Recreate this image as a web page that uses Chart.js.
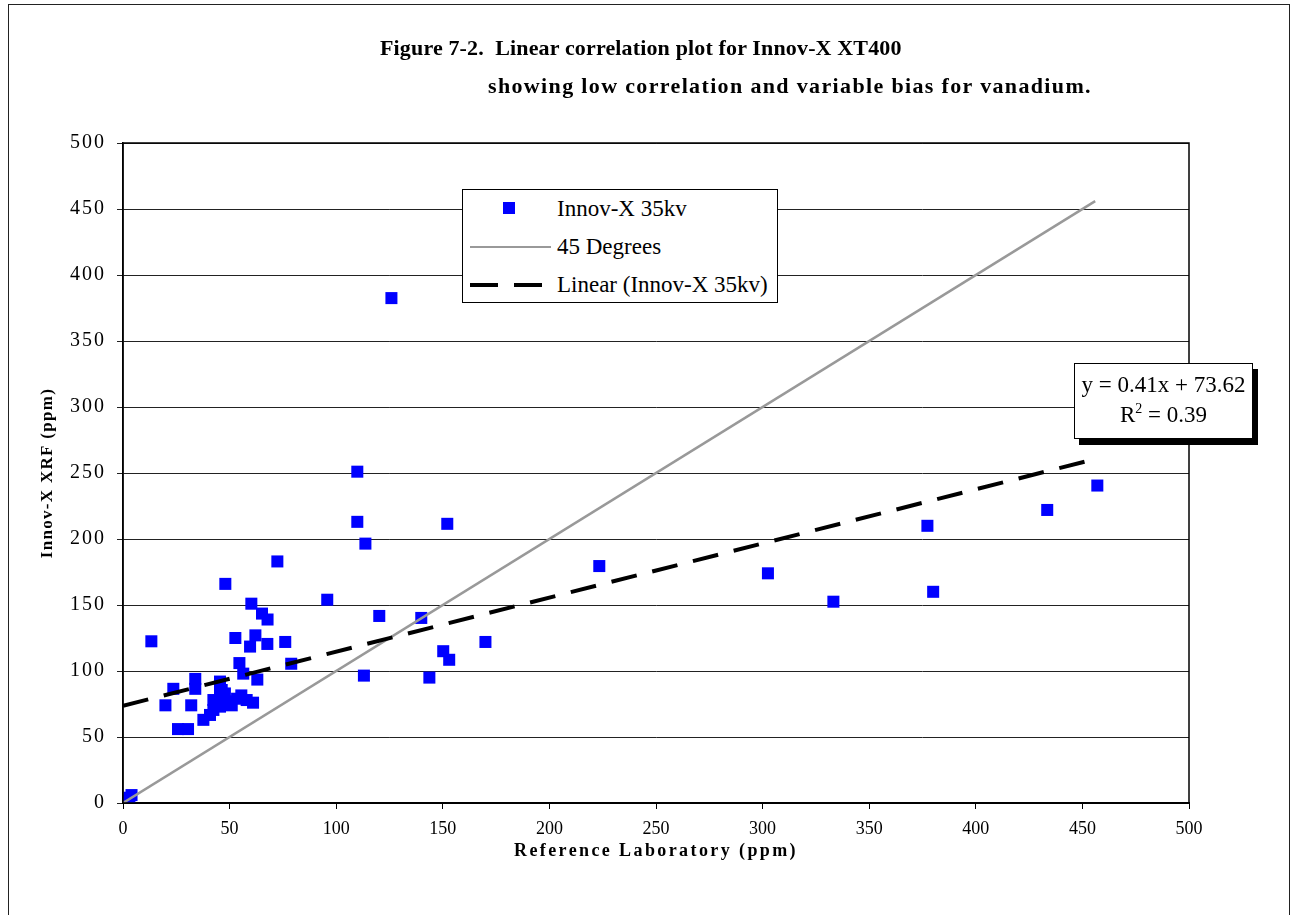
<!DOCTYPE html>
<html>
<head>
<meta charset="utf-8">
<script src="https://cdn.jsdelivr.net/npm/chart.js@4.4.1/dist/chart.umd.min.js"></script>
<style>
  html, body { margin: 0; padding: 0; background: #fff; }
  body { width: 1299px; height: 915px; position: relative; overflow: hidden; font-family: "Liberation Serif", "Times New Roman", serif; }
  #frame { position: absolute; left: 8px; top: 4px; width: 1282px; height: 1000px; border: 1.5px solid #222; box-sizing: border-box; }
  #wrap { position: absolute; left: 0; top: 0; width: 1299px; height: 915px; }
  .title { position: absolute; font-weight: bold; font-size: 22px; color: #000; white-space: nowrap; line-height: 26px; }
  #legend { position: absolute; left: 462px; top: 189px; width: 316px; height: 114px; border: 1px solid #000; background: #fff; box-sizing: border-box; }
  .lg-text { position: absolute; left: 94px; font-size: 23px; color: #000; white-space: nowrap; line-height: 26px; }
  #eq { position: absolute; left: 1074px; top: 363px; width: 179px; height: 76px; border: 1px solid #000; background: #fff; box-sizing: border-box; box-shadow: 5px 6px 0 #000; text-align: center; font-size: 23px; line-height: 30px; padding-top: 6px; color: #000; white-space: nowrap; }
  #eq sup { font-size: 14px; line-height: 0; vertical-align: 9px; }
</style>
</head>
<body>
<div id="frame"></div>
<div id="wrap"><canvas id="c" width="1299" height="915"></canvas></div>
<div class="title" style="left:380px; top:35px; letter-spacing:0.15px;">Figure 7-2.&nbsp; Linear correlation plot for Innov-X XT400</div>
<div class="title" style="left:488px; top:73px; letter-spacing:1.35px;">showing low correlation and variable bias for vanadium.</div>
<div id="legend">
  <div style="position:absolute; left:40px; top:12px; width:12px; height:12px; background:#0000ff;"></div>
  <div class="lg-text" style="top:6px;">Innov-X 35kv</div>
  <div style="position:absolute; left:7px; top:56px; width:81px; height:2px; background:#999;"></div>
  <div class="lg-text" style="top:44px;">45 Degrees</div>
  <div style="position:absolute; left:7px; top:93px; width:28px; height:4px; background:#000;"></div>
  <div style="position:absolute; left:51px; top:93px; width:28px; height:4px; background:#000;"></div>
  <div class="lg-text" style="top:82px;">Linear (Innov-X 35kv)</div>
</div>
<div id="eq">y = 0.41x + 73.62<br>R<sup>2</sup> = 0.39</div>
<script>
// Reference laboratory values (ppm)
const refLab = [0.5, 1, 2, 3, 4,
  13.3, 19.9, 23.6, 25.8, 30.5, 32, 33.9, 33.9, 37.7, 40.8,
  42.4, 42.4, 44, 45.5, 45.5, 45.5, 46.3, 47.8, 47, 49.5,
  51, 53.5, 55.5, 58, 61, 48, 52.7, 54.6, 56.4, 59.6,
  60.2, 62.1, 63, 65.2, 67.8, 67.7, 72.4, 76.1, 78.9, 95.8,
  109.9, 109.9, 113.7, 113, 120.2, 125.9, 139.9, 143.7, 150.2, 152.1,
  153, 170, 223.4, 302.5, 333.2, 377.3, 380, 433.5, 457];
// Innov-X XRF values (ppm)
const xrf = [0.5, 2, 1, 4, 6,
  122.5, 74, 86.5, 56, 56, 74, 86.5, 94, 63, 66.7,
  70.5, 78, 75.5, 92, 73, 86, 85.6, 83, 78, 77,
  74, 79, 81.5, 78, 76, 166, 125, 106, 98, 118.5,
  151, 127, 93.5, 143.5, 139, 120.5, 183, 122, 105.5, 154,
  251, 213, 196.5, 96.5, 141.7, 382.5, 140.2, 95, 115, 211.5,
  108.5, 122, 179.5, 174, 152.5, 210, 160, 222, 240.5];
// 45 degree reference line endpoints
const lineX = [0, 456];
const lineY = [0, 456];
// Linear trend line (y = 0.41x + 73.62) endpoints
const trendX = [0, 456];
const trendY = [73.62, 260.6];
const axisTicks = [0, 50, 100, 150, 200, 250, 300, 350, 400, 450, 500];

const serif = '"Liberation Serif", "Times New Roman", serif';

function withSpacing(scale, method, px) {
  const orig = scale[method];
  scale[method] = function () {
    const c = this.ctx;
    c.save();
    try { c.letterSpacing = px; } catch (e) {}
    orig.apply(this, arguments);
    c.restore();
  };
}

const textSpacing = {
  id: 'textSpacing',
  afterLayout(chart) {
    const x = chart.scales.x, y = chart.scales.y;
    if (!y.__spaced) {
      withSpacing(y, 'drawLabels', '2px');
      withSpacing(y, 'drawTitle', '1.3px');
      withSpacing(x, 'drawTitle', '2.4px');
      y.__spaced = true;
    }
  }
};

const frameBox = {
  id: 'frameBox',
  afterDatasetsDraw(chart) {
    const {ctx, chartArea: a} = chart;
    ctx.save();
    ctx.strokeStyle = '#000';
    ctx.lineWidth = 1.5;
    ctx.strokeRect(a.left, a.top, a.right - a.left, a.bottom - a.top);
    ctx.restore();
  }
};

new Chart(document.getElementById('c'), {
  type: 'scatter',
  data: {
    datasets: [
      {
        label: 'Innov-X 35kv',
        data: refLab.map((x, i) => ({x: x, y: xrf[i]})),
        backgroundColor: '#0000ff',
        borderWidth: 0,
        pointStyle: 'rect',
        pointRadius: 8.5,
        order: 3
      },
      {
        label: '45 Degrees',
        type: 'line',
        data: lineX.map((x, i) => ({x: x, y: lineY[i]})),
        borderColor: '#999999',
        borderWidth: 2.5,
        pointRadius: 0,
        fill: false,
        order: 2
      },
      {
        label: 'Linear (Innov-X 35kv)',
        type: 'line',
        data: trendX.map((x, i) => ({x: x, y: trendY[i]})),
        borderColor: '#000000',
        borderWidth: 4,
        borderDash: [26, 16],
        pointRadius: 0,
        fill: false,
        order: 1
      }
    ]
  },
  options: {
    responsive: false,
    animation: false,
    devicePixelRatio: 1,
    layout: { padding: { left: 0, top: 143, right: 110, bottom: 0 } },
    plugins: { legend: { display: false }, tooltip: { enabled: false }, title: { display: false } },
    scales: {
      x: {
        type: 'linear', min: 0, max: 500,
        afterFit(s) { s.height = 112; },
        afterBuildTicks(s) { s.ticks = axisTicks.map(v => ({value: v})); },
        grid: { drawOnChartArea: false, drawTicks: true, tickLength: 6, color: '#000', lineWidth: 1 },
        border: { display: true, color: '#000', width: 2 },
        ticks: { color: '#000', font: { family: serif, size: 18 }, padding: 9, maxRotation: 0 },
        title: { display: true, text: 'Reference Laboratory (ppm)', color: '#000', font: { family: serif, size: 18, weight: 'bold' }, padding: { top: 0, bottom: 53 } }
      },
      y: {
        type: 'linear', min: 0, max: 500,
        afterFit(s) { s.width = 123; },
        afterBuildTicks(s) { s.ticks = axisTicks.map(v => ({value: v})); },
        grid: { drawOnChartArea: true, drawTicks: true, tickLength: 6, color: '#222', lineWidth: 1 },
        border: { display: true, color: '#000', width: 1.5 },
        ticks: { color: '#000', font: { family: serif, size: 20 }, padding: 11 },
        title: { display: true, text: 'Innov-X XRF (ppm)', color: '#000', font: { family: serif, size: 17, weight: 'bold' }, padding: { top: 37, bottom: 0 } }
      }
    }
  },
  plugins: [textSpacing, frameBox]
});
</script>
</body>
</html>
